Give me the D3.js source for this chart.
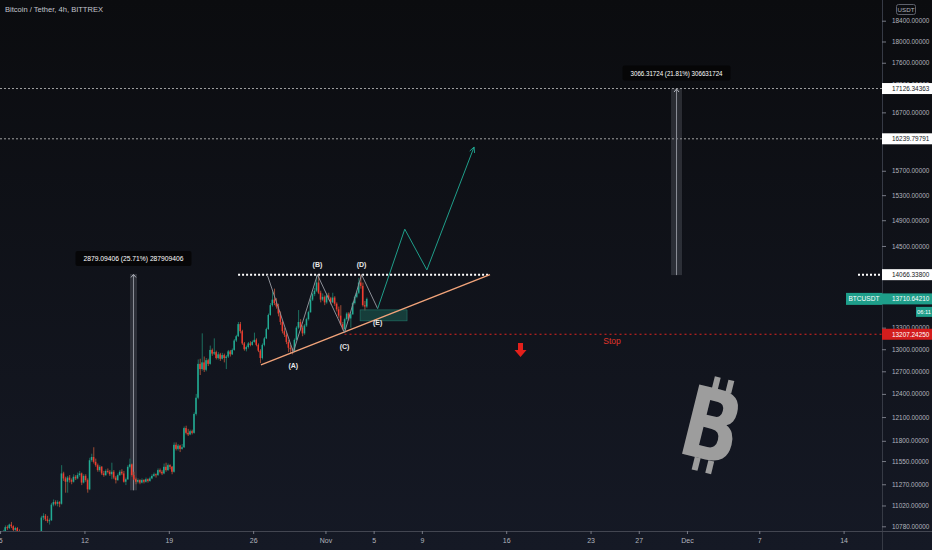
<!DOCTYPE html>
<html><head><meta charset="utf-8">
<script src="https://cdn.jsdelivr.net/npm/d3@7"></script>
<style>html,body{margin:0;padding:0;background:#131722;overflow:hidden}</style>
</head><body><svg id="c" width="932" height="550"></svg>
<script>
// ---------- DATA ----------
const startTime = "2020-10-05T00:00:00Z"; // first 4h candle
const opens = [
10680,10700,10720,10770,10760,10800,10780,10740,10760,10720,
10700,10650,10600,10580,10620,10590,10610,10650,10640,10660,
10700,10880,10900,10860,10840,10850,11030,11060,11040,11060,
11040,11400,11340,11300,11350,11320,11300,11360,11340,11380,
11400,11290,11370,11320,11210,11560,11600,11540,11500,11440,
11480,11400,11380,11430,11420,11390,11420,11350,11320,11380,
11420,11400,11300,11330,11480,11510,11380,11330,11300,11320,
11290,11320,11300,11330,11310,11340,11370,11390,11380,11440,
11420,11400,11480,11440,11500,11480,11420,11750,11700,11740,
11700,11720,11960,11900,11880,11920,11900,12140,12350,12800,
12730,12820,12720,12850,12800,12990,12940,12960,12880,12930,
12870,12920,12880,12900,12970,12930,12990,13120,13180,13350,
13250,13080,13000,13030,13080,13060,13100,13130,13060,12980,
12880,13060,13150,13280,13480,13620,13700,13650,13600,13500,
13380,13250,13200,13100,13020,13000,12980,13130,13300,13380,
13300,13220,13330,13420,13520,13700,13780,13830,13950,13800,
13700,13740,13660,13760,13720,13660,13730,13640,13560,13470,
13350,13280,13420,13500,13430,13490,13650,13740,13800,13950,
13900,13620,13600];
const highs = [
10720,10740,10790,10790,10810,10830,10790,10775,10770,10745,
10710,10660,10620,10640,10630,10630,10670,10680,10690,10720,
10900,10930,10920,10900,10870,11050,11090,11080,11080,11070,
11500,11420,11360,11370,11380,11340,11390,11380,11410,11430,
11410,11390,11390,11340,11590,11640,11720,11580,11520,11500,
11490,11430,11450,11460,11440,11530,11440,11370,11400,11440,
11450,11430,11350,11500,11580,11520,11420,11350,11340,11330,
11340,11330,11350,11340,11360,11390,11410,11400,11460,11460,
11440,11520,11530,11520,11510,11490,11780,11780,11760,11750,
11760,11980,11990,11950,11940,11940,12160,12400,12860,12870,
13220,12900,12880,12870,13050,13010,13150,12980,12960,12950,
12950,12940,12920,12990,12990,13010,13140,13200,13380,13380,
13270,13100,13050,13100,13110,13120,13230,13150,13080,13000,
13080,13170,13300,13500,13650,13820,13860,13720,13640,13530,
13400,13300,13230,13130,13060,13020,13150,13320,13550,13420,
13330,13350,13440,13540,13720,13800,13870,14050,14066,13830,
13790,13760,13790,13800,13740,13800,13750,13660,13600,13620,
13380,13440,13520,13520,13510,13670,13760,13820,14020,14066,
13950,13680,13730];
const lows = [
10650,10680,10710,10740,10750,10760,10720,10730,10700,10690,
10630,10580,10540,10560,10570,10580,10600,10620,10630,10650,
10690,10850,10840,10820,10800,10840,11010,11020,11010,11000,
11030,11310,11170,11170,11290,11270,11290,11320,11330,11360,
11260,11280,11300,11170,11200,11540,11520,11480,11420,11420,
11380,11360,11370,11400,11370,11330,11330,11280,11310,11370,
11380,11290,11260,11320,11460,11360,11320,11270,11280,11270,
11280,11280,11290,11290,11300,11330,11360,11350,11370,11400,
11380,11390,11420,11430,11450,11390,11410,11680,11680,11660,
11690,11710,11880,11860,11870,11880,11890,12120,12330,12650,
12710,12690,12700,12770,12790,12910,12920,12860,12860,12840,
12860,12820,12730,12880,12900,12920,12980,13100,13170,13220,
13060,12980,12970,13010,13040,13050,13090,13040,12960,12810,
12860,13040,13140,13270,13470,13600,13620,13570,13460,13340,
13220,13170,13070,12960,12940,12930,12970,13120,13280,13260,
13180,13200,13310,13400,13510,13680,13750,13810,13780,13660,
13680,13620,13640,13690,13630,13650,13610,13530,13440,13330,
13260,13230,13400,13400,13300,13480,13630,13720,13780,13860,
13600,13540,13580];
const closes = [
10700,10720,10770,10760,10800,10780,10740,10760,10720,10700,
10650,10600,10580,10620,10590,10610,10650,10640,10660,10700,
10880,10900,10860,10840,10850,11030,11060,11040,11060,11040,
11400,11340,11300,11350,11320,11300,11360,11340,11380,11400,
11290,11370,11320,11210,11560,11600,11540,11500,11440,11480,
11400,11380,11430,11420,11390,11420,11350,11320,11380,11420,
11400,11300,11330,11480,11510,11380,11330,11300,11320,11290,
11320,11300,11330,11310,11340,11370,11390,11380,11440,11420,
11400,11480,11440,11500,11480,11420,11750,11700,11740,11700,
11720,11960,11900,11880,11920,11900,12140,12350,12800,12730,
12820,12720,12850,12800,12990,12940,12960,12880,12930,12870,
12920,12880,12900,12970,12930,12990,13120,13180,13350,13250,
13080,13000,13030,13080,13060,13100,13130,13060,12980,12880,
13060,13150,13280,13480,13620,13700,13650,13600,13500,13380,
13250,13200,13100,13020,13000,12980,13130,13300,13380,13300,
13220,13330,13420,13520,13700,13780,13830,13950,13800,13700,
13740,13660,13760,13720,13660,13730,13640,13560,13470,13350,
13280,13420,13500,13430,13490,13650,13740,13800,13950,13900,
13620,13600,13710.6421];

const yTickValues = [18400,18000,17600,17200,16700,15700,15300,14900,14500,13300,13000,12700,12400,12100,11800,11550,11270,11020,10780];
const xTickDates  = ["2020-10-05","2020-10-12","2020-10-19","2020-10-26","2020-11-01","2020-11-05","2020-11-09","2020-11-16","2020-11-23","2020-11-27","2020-12-01","2020-12-07","2020-12-14"];
const xTickLabels = ["5","12","19","26","Nov","5","9","16","23","27","Dec","7","14"];

const targetLevels = [17126.34363, 16239.79791];
const resistanceLevel = 14066.338;
const stopLevel = 13207.2425;
const lastPrice = 13710.6421;

const waveTimes  = ["2020-10-27T04:00Z","2020-10-29T08:00Z","2020-10-31T08:00Z","2020-11-02T14:00Z","2020-11-04T00:00Z","2020-11-05T08:00Z"];
const wavePrices = [14066, 12960, 14066, 13230, 14066, 13570];
const waveLabels = ["", "(A)", "(B)", "(C)", "(D)", "(E)"];
const projTimes  = ["2020-11-05T08:00Z","2020-11-07T14:00Z","2020-11-09T10:00Z","2020-11-13T08:00Z"];
const projPrices = [13570, 14760, 14137, 16100];
const trendTimes  = ["2020-10-26T15:30Z","2020-11-14T15:45Z"];
const trendPrices = [12786, 14066];
const resistanceTimes = ["2020-10-24T18:00Z","2020-11-14T15:45Z"];
const stopStart = "2020-11-02T14:00Z";

const measureStart = ["2020-10-15T18:40Z","2020-11-29T16:20Z"];
const measureEnd   = ["2020-10-16T08:40Z","2020-11-30T14:10Z"];
const measureFrom  = [11198.31, 14060.03];
const measureTo    = [14077.40, 17126.34];
const measureText  = ["2879.09406 (25.71%) 287909406","3066.31724 (21.81%) 306631724"];

const boxTimes  = ["2020-11-03T21:00Z","2020-11-07T18:30Z"];
const boxPrices = [13552, 13396];

// ---------- SCALES ----------
const W = 932, H = 550, plotR = 882, plotB = 531;
const svg = d3.select("#c");
const x = d3.scaleUtc().domain([new Date("2020-10-05T00:00Z"), new Date("2020-12-14T00:00Z")]).range([0.1, 843.6]);
const y = d3.scaleLog().domain([10780, 18400]).range([526.3, 20.7]);
const T = s => new Date(s);
const FONT = "'Liberation Sans', Arial, sans-serif";
const AX = 6.4;

const defs = svg.append("defs");
const grad = defs.append("linearGradient").attr("id","bg").attr("x1",0).attr("y1",0).attr("x2",0).attr("y2",1);
grad.append("stop").attr("offset","0%").attr("stop-color","#0b0c0f");
grad.append("stop").attr("offset","100%").attr("stop-color","#151925");
defs.append("clipPath").attr("id","plotClip").append("rect").attr("x",0).attr("y",0).attr("width",plotR).attr("height",plotB);

svg.append("rect").attr("width",W).attr("height",H).attr("fill","url(#bg)");

const plot = svg.append("g").attr("clip-path","url(#plotClip)");

// target dashed lines
plot.selectAll("line.tgt").data(targetLevels).join("line").attr("class","tgt")
  .attr("x1",0).attr("x2",plotR).attr("y1",d=>y(d)).attr("y2",d=>y(d))
  .attr("stroke","#c8c8c8").attr("stroke-width",0.8).attr("stroke-dasharray","2,2");

// measure tools
measureText.forEach((txt,i)=>{
  const x0 = x(T(measureStart[i])), x1 = x(T(measureEnd[i]));
  const yT = y(measureTo[i]), yB = y(measureFrom[i]);
  const cx = (x0+x1)/2;
  plot.append("rect").attr("x",x0).attr("y",yT).attr("width",x1-x0).attr("height",yB-yT)
    .attr("fill","rgba(120,123,134,0.28)");
  plot.append("line").attr("x1",cx).attr("x2",cx).attr("y1",yB).attr("y2",yT+1)
    .attr("stroke","#8d9099").attr("stroke-width",1);
  plot.append("path").attr("d",`M${cx-2.5},${yT+3.5}L${cx},${yT+0.5}L${cx+2.5},${yT+3.5}`)
    .attr("fill","none").attr("stroke","#b0b3bb").attr("stroke-width",1);
});

// candles
const t0 = +new Date(startTime), step = 4*3600e3;
const candles = closes.map((c,i)=>({t:new Date(t0+i*step+step/2), o:opens[i], h:highs[i], l:lows[i], c}));
const cg = plot.append("g");
cg.selectAll("line").data(candles).join("line")
  .attr("x1",d=>x(d.t)+0.3).attr("x2",d=>x(d.t)+0.3)
  .attr("y1",d=>y(d.h)).attr("y2",d=>y(d.l))
  .attr("stroke",d=>d.c>=d.o?"#1d6f60":"#9c4d36").attr("stroke-width",1);
cg.selectAll("rect").data(candles).join("rect")
  .attr("x",d=>x(d.t)-0.7).attr("width",1.5)
  .attr("y",d=>Math.min(y(d.o),y(d.c)))
  .attr("height",d=>Math.max(1,Math.abs(y(d.o)-y(d.c))))
  .attr("fill",d=>d.c>=d.o?"#22ab94":"#f23a2f");

// teal box
plot.append("rect").attr("x",x(T(boxTimes[0]))).attr("y",y(boxPrices[0]))
  .attr("width",x(T(boxTimes[1]))-x(T(boxTimes[0]))).attr("height",y(boxPrices[1])-y(boxPrices[0]))
  .attr("fill","#1b5a50").attr("fill-opacity",0.6).attr("stroke","#237a6c").attr("stroke-width",0.6);

// resistance dotted line
plot.append("line").attr("x1",x(T(resistanceTimes[0])) ).attr("x2",x(T(resistanceTimes[1])))
  .attr("y1",y(resistanceLevel)).attr("y2",y(resistanceLevel))
  .attr("stroke","#ffffff").attr("stroke-width",2).attr("stroke-dasharray","2,2");
plot.append("line").attr("x1",858).attr("x2",plotR).attr("y1",y(resistanceLevel)).attr("y2",y(resistanceLevel))
  .attr("stroke","#ffffff").attr("stroke-width",2).attr("stroke-dasharray","2,2");

// stop line
plot.append("line").attr("x1",x(T(stopStart))).attr("x2",plotR).attr("y1",y(stopLevel)).attr("y2",y(stopLevel))
  .attr("stroke","#e0251f").attr("stroke-width",1.2).attr("stroke-dasharray","2,3");
plot.append("text").attr("x",612).attr("y",y(stopLevel)+10).attr("text-anchor","middle")
  .attr("font-family",FONT).attr("font-size",8.5).attr("fill","#e0352b").text("Stop");

// trendline
const line = d3.line().x(d=>x(T(d[0]))).y(d=>y(d[1]));
plot.append("path").attr("d",line(d3.zip(trendTimes,trendPrices)))
  .attr("fill","none").attr("stroke","#f2a47a").attr("stroke-width",1.4);

// wave zigzag
plot.append("path").attr("d",line(d3.zip(waveTimes,wavePrices)))
  .attr("fill","none").attr("stroke","#8b8e96").attr("stroke-width",1);
// projection
plot.append("path").attr("d",line(d3.zip(projTimes,projPrices)))
  .attr("fill","none").attr("stroke","#1f9e8a").attr("stroke-width",1);
{
  const n = projTimes.length;
  const ex = x(T(projTimes[n-1])), ey = y(projPrices[n-1]);
  const px = x(T(projTimes[n-2])), py = y(projPrices[n-2]);
  const ang = Math.atan2(ey-py, ex-px);
  const L = 6, a = 0.45;
  plot.append("path").attr("d",`M${ex-L*Math.cos(ang-a)},${ey-L*Math.sin(ang-a)}L${ex},${ey}L${ex-L*Math.cos(ang+a)},${ey-L*Math.sin(ang+a)}`)
    .attr("fill","none").attr("stroke","#1f9e8a").attr("stroke-width",1);
}
// wave labels
waveLabels.forEach((lab,i)=>{
  if(!lab) return;
  const up = (i%2===0);
  plot.append("text").attr("x",x(T(waveTimes[i]))).attr("y",y(wavePrices[i]) + (up?-8:16))
    .attr("text-anchor","middle").attr("font-family",FONT).attr("font-size",7).attr("font-weight","bold")
    .attr("fill","#e8e8e8").text(lab);
});

// measure labels
measureText.forEach((txt,i)=>{
  const cx = (x(T(measureStart[i]))+x(T(measureEnd[i])))/2;
  const yT = y(measureTo[i]);
  const wdt = i===0?116:108;
  plot.append("rect").attr("x",cx-wdt/2).attr("y",yT-23).attr("width",wdt).attr("height",15).attr("rx",2)
    .attr("fill","#050507").attr("fill-opacity",0.9);
  plot.append("text").attr("x",cx).attr("y",yT-13).attr("text-anchor","middle")
    .attr("font-family",FONT).attr("font-size",7).attr("fill","#ffffff")
    .attr("textLength",wdt-16).attr("lengthAdjust","spacingAndGlyphs").text(txt);
});

// red arrow
plot.append("path").attr("d","M518,343h5v7h3.5l-6,7l-6,-7h3.5z").attr("fill","#e3201b");

// bitcoin logo
{
  const g = plot.append("g").attr("transform","translate(712,425) rotate(14)");
  g.append("text").attr("x",0).attr("y",35).attr("text-anchor","middle")
    .attr("font-family","'DejaVu Sans', sans-serif").attr("font-weight","bold").attr("font-size",98)
    .attr("transform","scale(0.78,1)").attr("fill","#9d9d9d").text("B");
  [[-9,-48],[5,-48],[-9,35],[5,35]].forEach(p=>{
    g.append("rect").attr("x",p[0]).attr("y",p[1]).attr("width",6).attr("height",13).attr("fill","#9d9d9d");
  });
}

// ---------- AXES ----------
svg.append("line").attr("x1",plotR+0.5).attr("x2",plotR+0.5).attr("y1",0).attr("y2",H).attr("stroke","#363a45");
svg.append("line").attr("x1",0).attr("x2",W).attr("y1",plotB+0.5).attr("y2",plotB+0.5).attr("stroke","#434651");

const yAxis = d3.axisRight(y).tickValues(yTickValues).tickFormat(d=>d.toFixed(5)).tickSize(4).tickPadding(6);
const gy = svg.append("g").attr("transform",`translate(${plotR},0)`).call(yAxis);
gy.select(".domain").remove();
gy.selectAll(".tick line").attr("stroke","#787b86");
gy.selectAll(".tick text").attr("fill","#b2b5be").attr("font-family",FONT).attr("font-size",AX);

const xAxis = d3.axisBottom(x).tickValues(xTickDates.map(d=>new Date(d+"T00:00Z")))
  .tickFormat((d,i)=>xTickLabels[i]).tickSize(3).tickPadding(4);
const gx = svg.append("g").attr("transform",`translate(0,${plotB})`).call(xAxis);
gx.select(".domain").remove();
gx.selectAll(".tick line").attr("stroke","#787b86");
gx.selectAll(".tick text").attr("fill","#b2b5be").attr("font-family",FONT).attr("font-size",7);

// axis price labels
function priceTag(val, bg, fg, txt){
  const yy = y(val);
  svg.append("rect").attr("x",plotR).attr("y",yy-5.5).attr("width",W-plotR).attr("height",11).attr("fill",bg);
  svg.append("text").attr("x",892).attr("y",yy+2.4).attr("font-family",FONT).attr("font-size",AX)
    .attr("fill",fg).text(txt);
}
targetLevels.forEach(v=>priceTag(v,"#ffffff","#131722",v.toFixed(5)));
priceTag(resistanceLevel,"#ffffff","#131722",resistanceLevel.toFixed(5));
priceTag(stopLevel,"#d31d1d","#ffffff",stopLevel.toFixed(5));
priceTag(lastPrice,"#1e9e8a","#ffffff",lastPrice.toFixed(5));
// countdown & symbol tag
svg.append("rect").attr("x",916).attr("y",y(lastPrice)+8).attr("width",16).attr("height",10).attr("fill","#1e9e8a");
svg.append("text").attr("x",924).attr("y",y(lastPrice)+15.3).attr("text-anchor","middle").attr("font-family",FONT)
  .attr("font-size",5.8).attr("fill","#ffffff").text("06:11");
svg.append("rect").attr("x",846).attr("y",y(lastPrice)-6).attr("width",plotR-846).attr("height",12).attr("fill","#1e9e8a");
svg.append("text").attr("x",864).attr("y",y(lastPrice)+2.5).attr("text-anchor","middle").attr("font-family",FONT)
  .attr("font-size",6.6).attr("fill","#ffffff").text("BTCUSDT");
// USDT box
svg.append("rect").attr("x",896.5).attr("y",4.5).attr("width",19).attr("height",10).attr("rx",2)
  .attr("fill","none").attr("stroke","#5d606b");
svg.append("text").attr("x",906).attr("y",12).attr("text-anchor","middle").attr("font-family",FONT)
  .attr("font-size",6.2).attr("fill","#b2b5be").text("USDT");

// title
svg.append("text").attr("x",5).attr("y",12).attr("font-family",FONT).attr("font-size",7.6)
  .attr("fill","#c3c6ce").attr("textLength",98).attr("lengthAdjust","spacingAndGlyphs").text("Bitcoin / Tether, 4h, BITTREX");
</script></body></html>
